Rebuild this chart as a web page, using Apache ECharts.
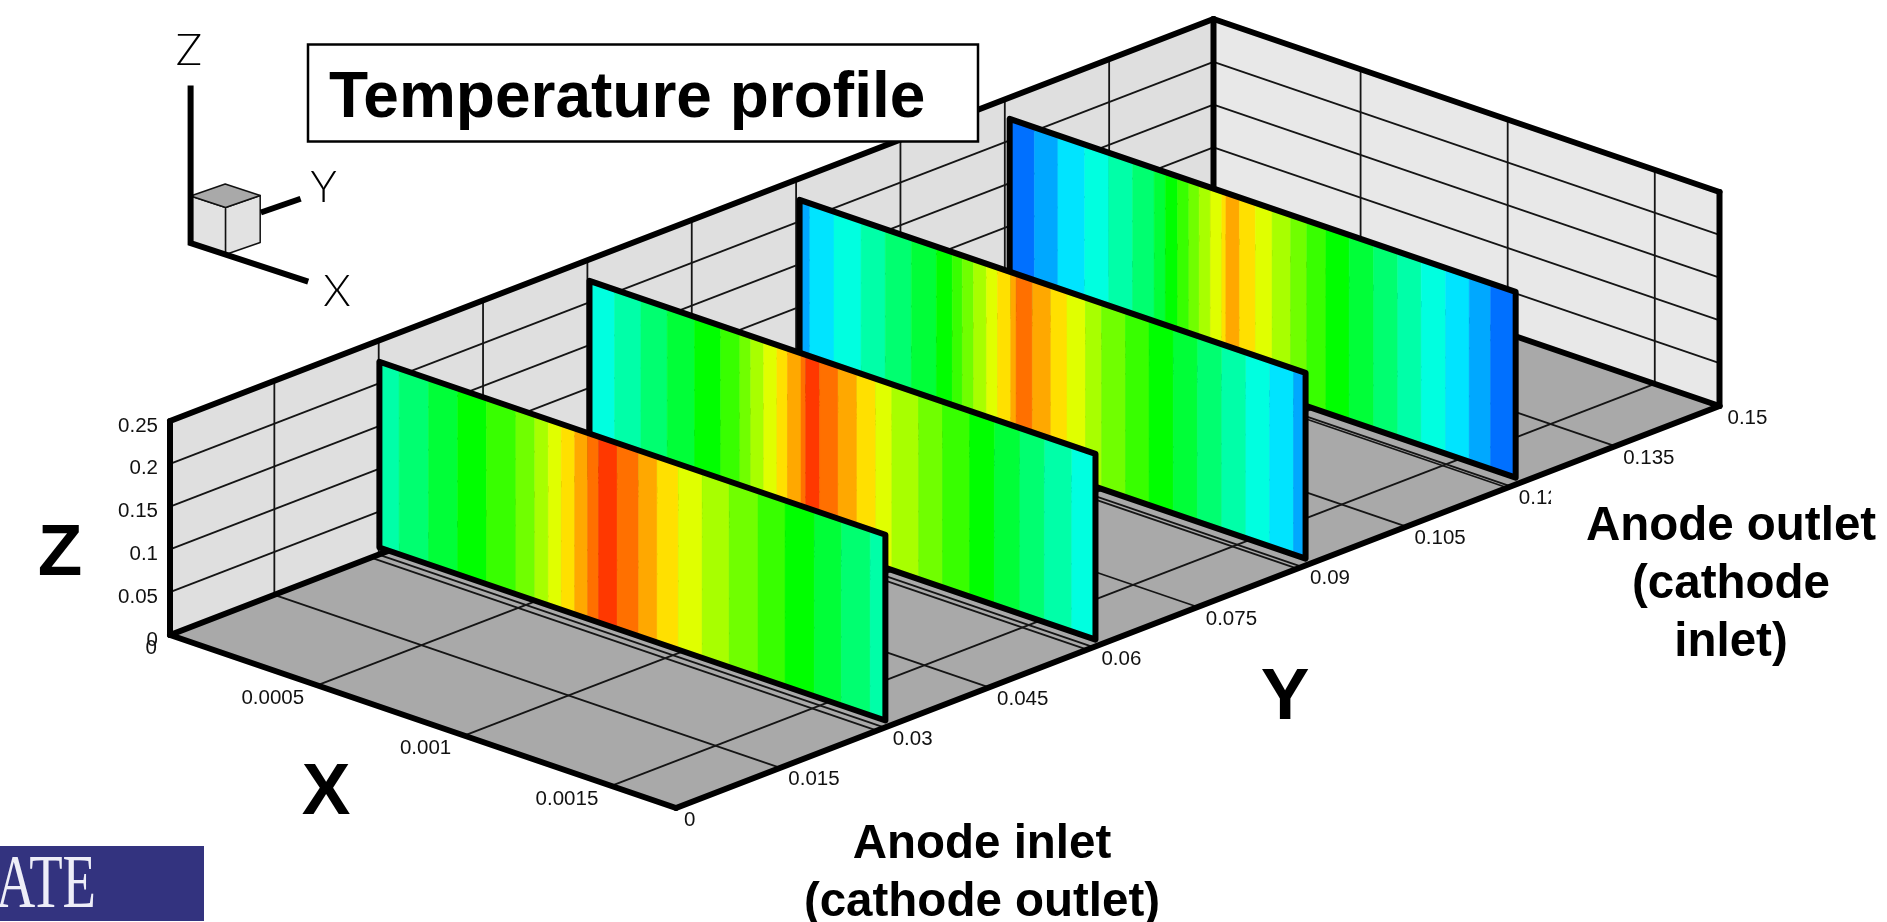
<!DOCTYPE html>
<html>
<head>
<meta charset="utf-8">
<style>html,body{margin:0;padding:0;background:#fff}#c{width:1887px;height:922px}</style>
<script src="https://cdn.jsdelivr.net/npm/echarts@6/dist/echarts.min.js"></script>
</head>
<body>
<div id="c"></div>
<script>
// ---- axis ticks ----
const xMax = 0.00172, yMax = 0.15, zMax = 0.25;
const xTicks = [0, 0.0005, 0.001, 0.0015];
const xTickLabels = ['0', '0.0005', '0.001', '0.0015'];
const yTicks = [0, 0.015, 0.03, 0.045, 0.06, 0.075, 0.09, 0.105, 0.12, 0.135, 0.15];
const yTickLabels = ['0', '0.015', '0.03', '0.045', '0.06', '0.075', '0.09', '0.105', '0.12', '0.135', '0.15'];
const zTicks = [0, 0.05, 0.1, 0.15, 0.2, 0.25];
const zTickLabels = ['0', '0.05', '0.1', '0.15', '0.2', '0.25'];

// ---- contour palette, coldest to hottest ----
const palette = ['#0070ff', '#00a8ff', '#00e4ff', '#00ffe0', '#00ffa8', '#00ff70', '#00ff38', '#00ff00',
  '#38ff00', '#70ff00', '#a8ff00', '#e0ff00', '#ffe000', '#ffa800', '#ff7000', '#ff3800'];

// ---- temperature slices: contour level per band, band boundaries across X in mm ----
const sliceY = [0.1207, 0.0905, 0.0603, 0.0301];
const sliceZMin = 0.008, sliceZMax = 0.225;
const levelsY120 = [0, 1, 2, 3, 4, 5, 6, 7, 8, 9, 10, 11, 12, 13, 12, 11, 10, 9, 8, 7, 6, 5, 4, 3, 2, 1, 0];
const edgesY120 = [0.084, 0.164, 0.255, 0.337, 0.418, 0.491, 0.529, 0.571, 0.609, 0.644, 0.682, 0.721, 0.735,
  0.781, 0.835, 0.892, 0.955, 1.010, 1.075, 1.154, 1.237, 1.319, 1.399, 1.482, 1.562, 1.635];
const levelsY090 = [1, 2, 3, 4, 5, 6, 7, 8, 9, 10, 11, 12, 13, 14, 13, 12, 11, 10, 9, 8, 7, 6, 5, 4, 3, 2, 1];
const edgesY090 = [0.035, 0.117, 0.209, 0.291, 0.380, 0.465, 0.519, 0.553, 0.591, 0.635, 0.673, 0.718, 0.736,
  0.791, 0.854, 0.909, 0.972, 1.027, 1.108, 1.188, 1.270, 1.352, 1.435, 1.517, 1.598, 1.679];
const levelsY060 = [3, 4, 5, 6, 7, 8, 9, 10, 11, 12, 13, 14, 15, 14, 13, 12, 11, 10, 9, 8, 7, 6, 5, 4, 3];
const edgesY060 = [0.085, 0.175, 0.264, 0.357, 0.446, 0.511, 0.548, 0.592, 0.637, 0.673, 0.719, 0.735,
  0.782, 0.845, 0.909, 0.973, 1.028, 1.119, 1.200, 1.292, 1.376, 1.463, 1.546, 1.639];
const levelsY030 = [4, 5, 6, 7, 8, 9, 10, 11, 12, 13, 14, 15, 14, 13, 12, 11, 10, 9, 8, 7, 6, 5, 4];
const edgesY030 = [0.067, 0.167, 0.266, 0.364, 0.464, 0.528, 0.574, 0.618, 0.664, 0.708, 0.745, 0.808,
  0.881, 0.944, 1.016, 1.097, 1.189, 1.287, 1.379, 1.478, 1.570, 1.668];
const sliceLevels = [levelsY120, levelsY090, levelsY060, levelsY030];
const sliceEdges = [edgesY120, edgesY090, edgesY060, edgesY030];

// ---- oblique view of the box, mapped into the hidden pixel-plane axes ----
const view = { ox: 170, oy: 635, xx: 506, xy: 173, yx: 1043.5, yy: -402, zy: -214 };
function project(x, y, z) {
  const a = x / xMax, b = y / yMax, c = z / zMax;
  return [view.ox + a * view.xx + b * view.yx, view.oy + a * view.xy + b * view.yy + c * view.zy];
}
function toPx(api, p3) { return api.coord(project(p3[0], p3[1], p3[2])); }

const WALL_LEFT = '#dfdfdf', WALL_RIGHT = '#e8e8e8', FLOOR = '#a9a9a9', INK = '#000', THIN = '#151515';
const THICK = 6;

// faces of the box
const faces = [
  { c: FLOOR, p: [[0, 0, 0], [xMax, 0, 0], [xMax, yMax, 0], [0, yMax, 0]] },
  { c: WALL_LEFT, p: [[0, 0, 0], [0, yMax, 0], [0, yMax, zMax], [0, 0, zMax]] },
  { c: WALL_RIGHT, p: [[0, yMax, 0], [xMax, yMax, 0], [xMax, yMax, zMax], [0, yMax, zMax]] }
];

// thin grid lines
const gridSegs = [];
yTicks.slice(1, -1).forEach(y => {
  gridSegs.push([[0, y, 0], [xMax, y, 0]]);
  gridSegs.push([[0, y, 0], [0, y, zMax]]);
});
xTicks.slice(1).forEach(x => {
  gridSegs.push([[x, 0, 0], [x, yMax, 0]]);
  gridSegs.push([[x, yMax, 0], [x, yMax, zMax]]);
});
zTicks.slice(1, -1).forEach(z => {
  gridSegs.push([[0, 0, z], [0, yMax, z]]);
  gridSegs.push([[0, yMax, z], [xMax, yMax, z]]);
});
// second floor trace directly in front of each slice
sliceY.forEach(y => gridSegs.push([[0, y - 0.0012, 0], [xMax, y - 0.0012, 0]]));

// thick box edges
const edgeSegs = [
  [[0, 0, 0], [xMax, 0, 0]], [[xMax, 0, 0], [xMax, yMax, 0]],
  [[0, 0, 0], [0, yMax, 0]], [[0, yMax, 0], [xMax, yMax, 0]],
  [[0, 0, 0], [0, 0, zMax]], [[0, yMax, 0], [0, yMax, zMax]], [[xMax, yMax, 0], [xMax, yMax, zMax]],
  [[0, 0, zMax], [0, yMax, zMax]], [[0, yMax, zMax], [xMax, yMax, zMax]]
];

const sliceSeries = [];
sliceY.forEach((y, s) => {
  const levels = sliceLevels[s], edges = sliceEdges[s].map(e => e / 1000);
  const bounds = [0].concat(edges, [xMax]);
  sliceSeries.push({
    type: 'custom', coordinateSystem: 'cartesian2d', silent: true, clip: false, z: 10 + s,
    data: levels.map((l, i) => [i]),
    renderItem(params, api) {
      const i = params.dataIndex;
      const x0 = bounds[i], x1 = bounds[i + 1], col = palette[levels[i]];
      return {
        type: 'polygon', z2: 1,
        shape: { points: [[x0, y, sliceZMin], [x1, y, sliceZMin], [x1, y, sliceZMax], [x0, y, sliceZMax]].map(p => toPx(api, p)) },
        style: { fill: col, stroke: col, lineWidth: 0.5 }
      };
    }
  });
  sliceSeries.push({
    type: 'custom', coordinateSystem: 'cartesian2d', silent: true, clip: false, z: 10 + s,
    data: [[0]],
    renderItem(params, api) {
      return {
        type: 'polygon', z2: 2,
        shape: { points: [[0, y, sliceZMin], [xMax, y, sliceZMin], [xMax, y, sliceZMax], [0, y, sliceZMax]].map(p => toPx(api, p)) },
        style: { fill: 'none', stroke: INK, lineWidth: THICK, lineJoin: 'round' }
      };
    }
  });
});

// tick labels
const TICK_FONT = '20.5px "Liberation Sans", Arial, sans-serif';
const tickItems = [];
zTicks.forEach((z, i) => tickItems.push({ t: zTickLabels[i], p: [0, 0, z], dx: -12, dy: 5, a: 'right' }));
xTicks.forEach((x, i) => tickItems.push({ t: xTickLabels[i], p: [x, 0, 0], dx: -13, dy: 13, a: 'right' }));
yTicks.forEach((y, i) => tickItems.push({ t: yTickLabels[i], p: [xMax, y, 0], dx: 8, dy: 12, a: 'left' }));

const series = [
  {
    type: 'custom', coordinateSystem: 'cartesian2d', silent: true, clip: false, z: 1,
    data: faces.map((f, i) => [i]),
    renderItem(params, api) {
      const f = faces[params.dataIndex];
      return { type: 'polygon', shape: { points: f.p.map(p => toPx(api, p)) }, style: { fill: f.c } };
    }
  },
  {
    type: 'custom', coordinateSystem: 'cartesian2d', silent: true, clip: false, z: 2,
    data: gridSegs.map((s, i) => [i]),
    renderItem(params, api) {
      const s = gridSegs[params.dataIndex];
      return { type: 'polyline', shape: { points: s.map(p => toPx(api, p)) }, style: { fill: 'none', stroke: THIN, lineWidth: 1.8 } };
    }
  },
  {
    type: 'custom', coordinateSystem: 'cartesian2d', silent: true, clip: false, z: 3,
    data: edgeSegs.map((s, i) => [i]),
    renderItem(params, api) {
      const s = edgeSegs[params.dataIndex];
      return { type: 'polyline', shape: { points: s.map(p => toPx(api, p)) }, style: { fill: 'none', stroke: INK, lineWidth: THICK, lineCap: 'round' } };
    }
  }
].concat(sliceSeries, [
  {
    type: 'custom', coordinateSystem: 'cartesian2d', silent: true, clip: false, z: 30,
    data: tickItems.map((s, i) => [i]),
    renderItem(params, api) {
      const d = tickItems[params.dataIndex];
      const c = toPx(api, d.p);
      return {
        type: 'text', x: c[0] + d.dx, y: c[1] + d.dy,
        style: { text: d.t, font: TICK_FONT, fill: '#111', textAlign: d.a, align: d.a, textVerticalAlign: 'middle', verticalAlign: 'middle' }
      };
    }
  }
]);

// ---- orientation triad (own small basis) ----
const tO = [190.6, 243], tX = [35, 11.5], tY = [34.6, -12], tZ = [0, -47];
function tp(a, b, c) { return [tO[0] + a * tX[0] + b * tY[0] + c * tZ[0], tO[1] + a * tX[1] + b * tY[1] + c * tZ[1]]; }
const cubeStroke = { stroke: '#111', lineWidth: 1.5, lineJoin: 'round' };
const BOLD = '"Liberation Sans", Arial, sans-serif';
const TRIAD_FONT = '300 44px Lato, "Liberation Sans", sans-serif';
function label(text, x, y, font, align, extra) {
  return Object.assign({
    type: 'text', x, y, z: 100,
    style: { text, font, fill: '#000', textAlign: align, align, textVerticalAlign: 'middle', verticalAlign: 'middle' }
  }, extra || {});
}
const graphics = [
  { type: 'polygon', z: 90, shape: { points: [tp(0, 0, 0), tp(1, 0, 0), tp(1, 0, 1), tp(0, 0, 1)] }, style: Object.assign({ fill: '#e2e2e2' }, cubeStroke) },
  { type: 'polygon', z: 90, shape: { points: [tp(1, 0, 0), tp(1, 1, 0), tp(1, 1, 1), tp(1, 0, 1)] }, style: Object.assign({ fill: '#e2e2e2' }, cubeStroke) },
  { type: 'polygon', z: 90, shape: { points: [tp(0, 0, 1), tp(1, 0, 1), tp(1, 1, 1), tp(0, 1, 1)] }, style: Object.assign({ fill: FLOOR }, cubeStroke) },
  { type: 'polyline', z: 91, shape: { points: [tp(0, 0, 3.35), tp(0, 0, 0), tp(3.36, 0, 0)] }, style: { fill: 'none', stroke: INK, lineWidth: 6 } },
  { type: 'polyline', z: 91, shape: { points: [tp(0, 2.03, 0.13), tp(0, 3.18, 0.13)] }, style: { fill: 'none', stroke: INK, lineWidth: 6 } },
  label('Z', 189, 51, TRIAD_FONT, 'center'),
  label('Y', 323.6, 188, TRIAD_FONT, 'center'),
  label('X', 337, 292, TRIAD_FONT, 'center'),

  // title box
  { type: 'rect', z: 95, shape: { x: 308, y: 44.5, width: 670, height: 97 }, style: { fill: '#fff', stroke: INK, lineWidth: 2.5 } },
  label('Temperature profile', 329, 99, 'bold 64px ' + BOLD, 'left'),

  // axis captions
  label('Z', 60, 555, 'bold 73px ' + BOLD, 'center'),
  label('X', 326, 794, 'bold 73px ' + BOLD, 'center'),
  label('Y', 1285, 699, 'bold 73px ' + BOLD, 'center'),

  // annotations
  { type: 'rect', z: 95, shape: { x: 1551, y: 490, width: 336, height: 190 }, style: { fill: '#fff' } },
  label('Anode outlet\n(cathode\ninlet)', 1731, 585, 'bold 47.5px ' + BOLD, 'center', {}),
  label('Anode inlet\n(cathode outlet)', 982, 874, 'bold 47.5px ' + BOLD, 'center', {}),

  // logo fragment
  { type: 'rect', z: 95, shape: { x: 0, y: 846, width: 204, height: 75 }, style: { fill: '#33337f' } },
  label('ATE', 96, 887, '76px "Liberation Serif", serif', 'right', { scaleX: 0.72 })
];
graphics[graphics.length - 1].style.fill = '#eeeef8';
graphics.forEach(g => { if (g.type === 'text' && g.style.text.indexOf('\n') >= 0) g.style.lineHeight = 58; });

const chart = echarts.init(document.getElementById('c'), null, { renderer: 'canvas', width: 1887, height: 922 });
chart.setOption({
  animation: false,
  backgroundColor: '#fff',
  grid: { left: 0, right: 0, top: 0, bottom: 0 },
  xAxis: { type: 'value', min: 0, max: 1887, show: false },
  yAxis: { type: 'value', min: 0, max: 922, inverse: true, show: false },
  series,
  graphic: { elements: graphics }
});
</script>
</body>
</html>
